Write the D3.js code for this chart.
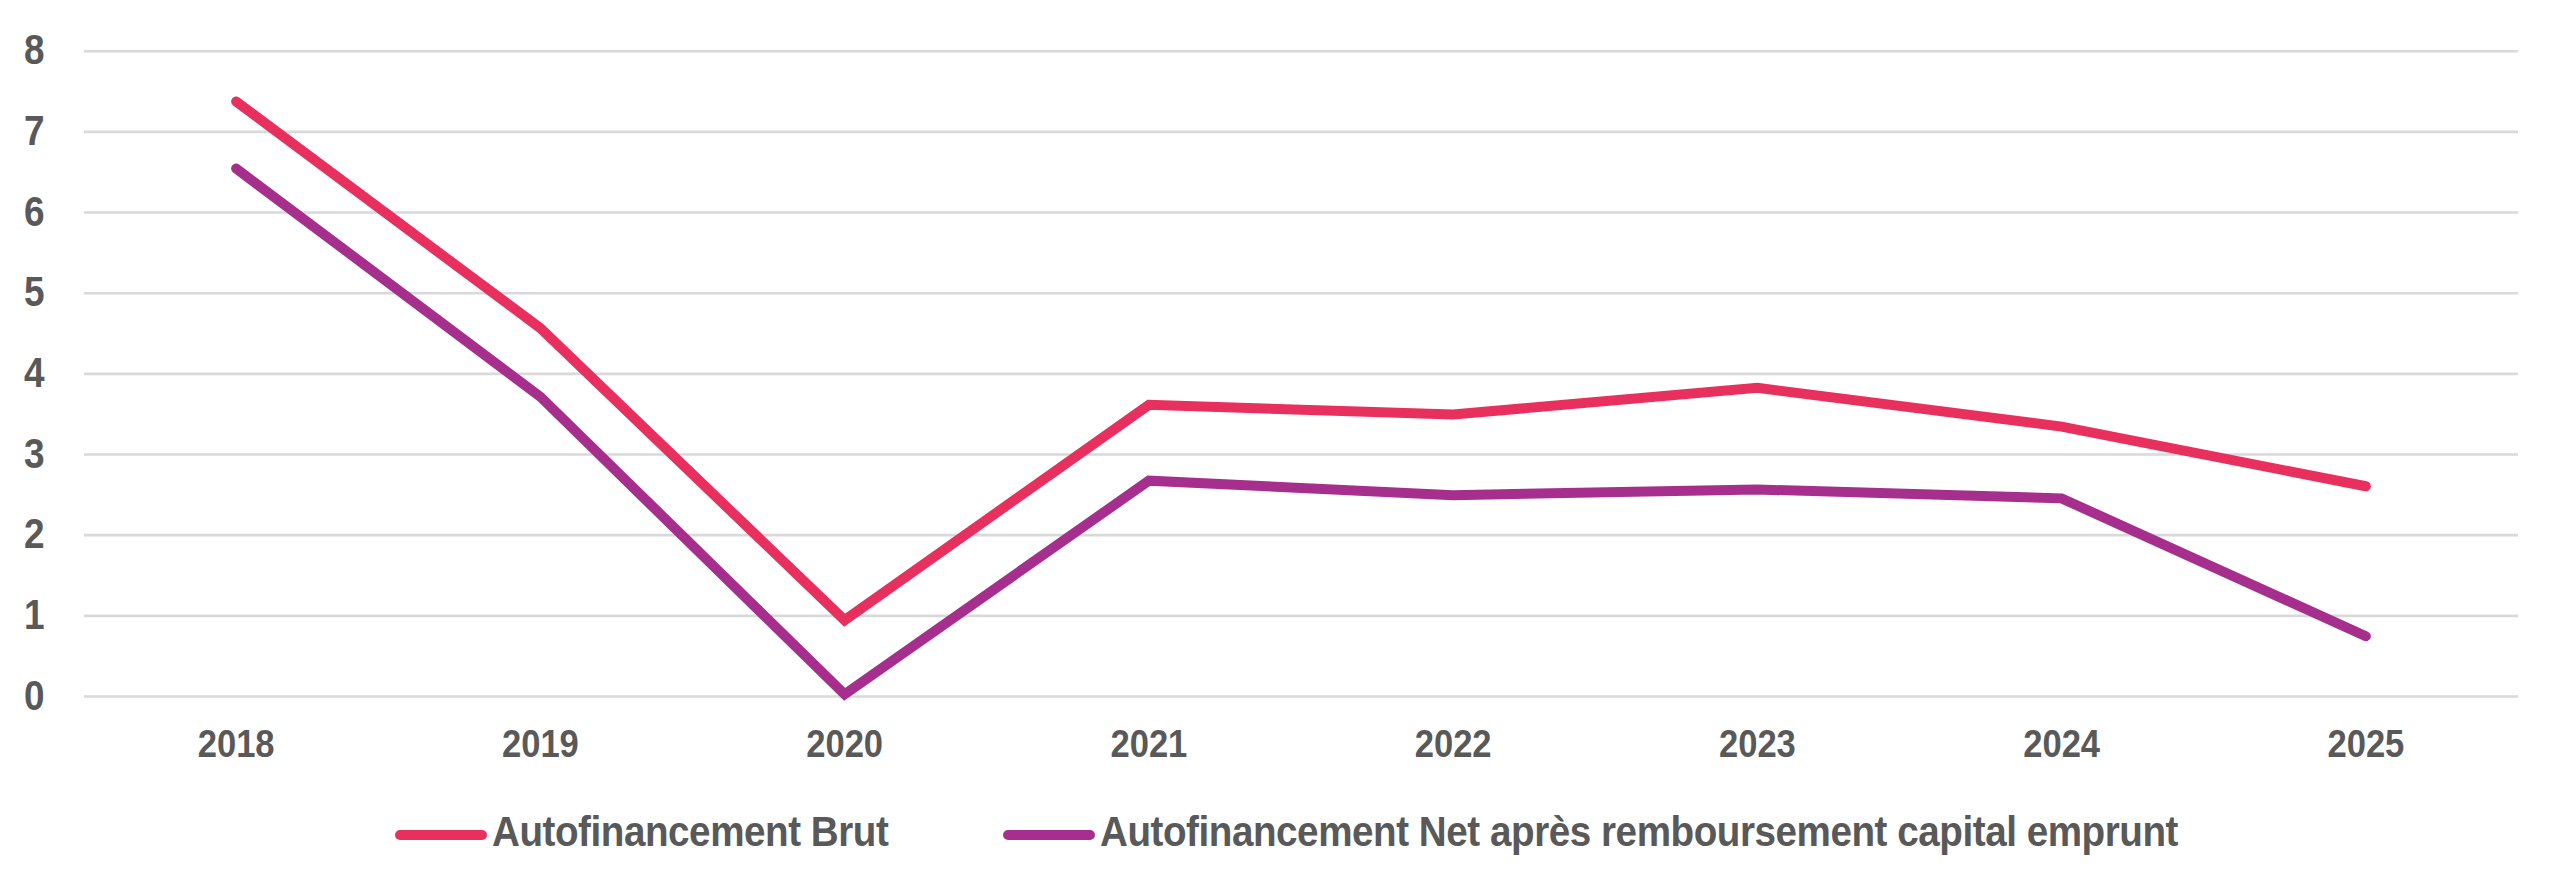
<!DOCTYPE html>
<html>
<head>
<meta charset="utf-8">
<script src="https://cdn.jsdelivr.net/npm/d3@7"></script>
<style>
  html, body { margin: 0; padding: 0; background: #ffffff; }
  svg { display: block; }
  text { font-family: "Liberation Sans", Arial, sans-serif; font-weight: bold; fill: #595959; }
</style>
</head>
<body>
<svg id="chart" width="2560" height="892"></svg>
<script>
const years = ["2018", "2019", "2020", "2021", "2022", "2023", "2024", "2025"];
const brut = [7.37, 4.56, 0.94, 3.61, 3.49, 3.82, 3.34, 2.60];
const net = [6.54, 3.71, 0.02, 2.67, 2.49, 2.56, 2.45, 0.74];
const yTicks = [0, 1, 2, 3, 4, 5, 6, 7, 8];
const seriesNames = ["Autofinancement Brut", "Autofinancement Net après remboursement capital emprunt"];
const seriesColors = ["#E8305E", "#A62F8E"];

(function () {
const svg = d3.select("#chart");
const pLeft = 84, pRight = 2518, pTop = 50.7, pBottom = 696;

const x = d3.scaleBand().domain(years).range([pLeft, pRight]).padding(0);
const y = d3.scaleLinear().domain([0, 8]).range([pBottom, pTop]);

// Gridlines + y labels
const yAxis = svg.append("g")
  .attr("transform", `translate(${pLeft},0)`)
  .call(d3.axisLeft(y).tickValues(yTicks).tickSize(-(pRight - pLeft)).tickFormat(d3.format("d")));
yAxis.select(".domain").remove();
yAxis.selectAll(".tick line").attr("stroke", "#D9D9D9").attr("stroke-width", 2.6);
const ySx = 0.86;
yAxis.selectAll(".tick text")
  .attr("x", -39.5 / ySx)
  .attr("dy", 0)
  .attr("y", 13)
  .attr("transform", `scale(${ySx},1)`)
  .style("font-size", "43px")
  .attr("fill", "#595959")
  .attr("text-anchor", "end");

// X labels
const xSx = 0.91;
const xAxis = svg.append("g")
  .attr("transform", `translate(0,${pBottom})`)
  .call(d3.axisBottom(x).tickSize(0));
xAxis.select(".domain").remove();
xAxis.selectAll(".tick text")
  .attr("y", 61)
  .attr("dy", 0)
  .attr("transform", `scale(${xSx},1)`)
  .style("font-size", "38px")
  .attr("fill", "#595959")
  .attr("text-anchor", "middle");

// Lines
const line = d3.line()
  .x((d, i) => x(years[i]) + x.bandwidth() / 2)
  .y(d => y(d));

[brut, net].forEach((vals, k) => {
  svg.append("path")
    .datum(vals)
    .attr("d", line)
    .attr("fill", "none")
    .attr("stroke", seriesColors[k])
    .attr("stroke-width", 10)
    .attr("stroke-linecap", "round")
    .attr("stroke-linejoin", "miter");
});

// Legend
const legendX = [395, 1003];
const legSx = 0.92;
seriesNames.forEach((name, k) => {
  const g = svg.append("g").attr("transform", `translate(${legendX[k]},835)`);
  g.append("line")
    .attr("x1", 5).attr("x2", 87)
    .attr("y1", 0).attr("y2", 0)
    .attr("stroke", seriesColors[k])
    .attr("stroke-width", 10)
    .attr("stroke-linecap", "round");
  g.append("text")
    .attr("x", 97 / legSx)
    .attr("y", 11)
    .attr("transform", `scale(${legSx},1)`)
    .style("font-size", "42px")
    .style("letter-spacing", "-0.5px")
    .text(name);
});
})();
</script>
</body>
</html>
